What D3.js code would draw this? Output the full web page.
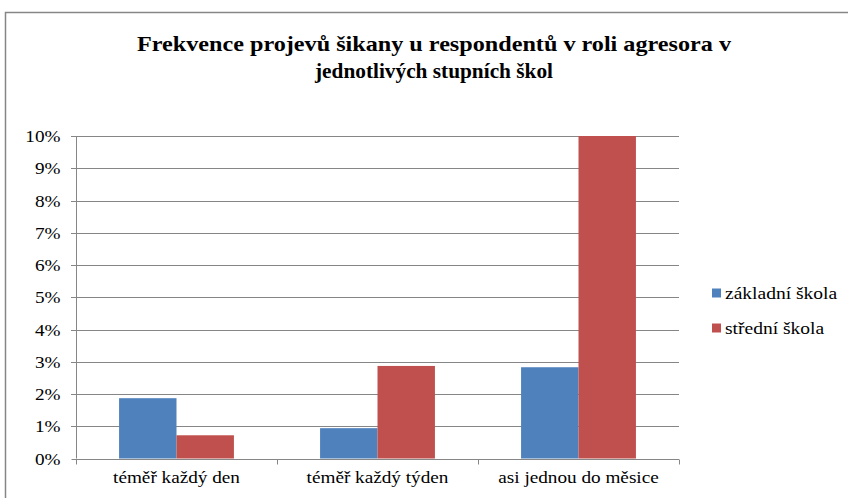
<!DOCTYPE html>
<html lang="cs">
<head>
<meta charset="utf-8">
<title>Frekvence projevů šikany</title>
<script src="https://d3js.org/d3.v7.min.js"></script>
<style>
  body { margin: 0; background: #fff; }
  .grid line { stroke: #868686; stroke-width: 1px; }
  .axis path, .axis line { stroke: #868686; }
</style>
</head>
<body>
<svg width="848" height="498"></svg>
<script>
var categories = ["téměř každý den", "téměř každý týden", "asi jednou do měsice"];
var seriesNames = ["základní škola", "střední škola"];
var zakladni = [1.87, 0.94, 2.83];
var stredni = [0.72, 2.87, 10.0];
var yTicks = [0, 1, 2, 3, 4, 5, 6, 7, 8, 9, 10];
var colors = ["#4F81BD", "#C0504D"];
var titleLines = ["Frekvence projevů šikany u respondentů v roli agresora v", "jednotlivých stupních škol"];
var titleWidths = [594, 238];

var FONT = "'Liberation Serif', 'Times New Roman', serif";
var svg = d3.select("svg");

// the reference text looks horizontally stretched, so widen glyphs a bit
function stretch(sel, k) {
  sel.each(function () {
    var w = this.getComputedTextLength();
    d3.select(this).attr("textLength", w * k).attr("lengthAdjust", "spacingAndGlyphs");
  });
}

// chart frame
svg.append("rect")
  .attr("x", 5.5).attr("y", 12.5)
  .attr("width", 860).attr("height", 500)
  .attr("fill", "#fff")
  .attr("stroke", "#868686")
  .attr("stroke-width", 1.5);

var plotLeft = 76, plotRight = 679, plotTop = 136, plotBottom = 458.5;

var x0 = d3.scaleBand().domain(categories).range([plotLeft, plotRight]);
var y = d3.scaleLinear().domain([0, 10]).range([plotBottom, plotTop]);

// bar width as Excel gap width 150%
var barW = x0.bandwidth() / 3.5;
var x1 = d3.scaleBand().domain(seriesNames)
  .range([x0.bandwidth() / 2 - barW, x0.bandwidth() / 2 + barW]);

// gridlines
svg.append("g").attr("class", "grid")
  .selectAll("line").data(yTicks.slice(1)).enter().append("line")
  .attr("x1", plotLeft - 5).attr("x2", plotRight)
  .attr("y1", d => Math.round(y(d)) + 0.5).attr("y2", d => Math.round(y(d)) + 0.5);

// y axis
var yAxis = d3.axisLeft(y).tickValues(yTicks).tickFormat(d => d + "%").tickSize(5).tickPadding(11);
var gy = svg.append("g").attr("class", "axis")
  .attr("transform", "translate(" + (plotLeft + 0.5) + ",0)")
  .call(yAxis);
gy.selectAll(".tick").attr("transform", d => "translate(0," + (Math.round(y(d)) + 0.5) + ")");
gy.selectAll("text").style("font-family", FONT).style("font-size", "16px");
gy.select(".domain").attr("d", "M0," + plotTop + "V" + plotBottom);

// bars
var data = categories.map((c, i) => ({ cat: c, vals: [zakladni[i], stredni[i]] }));
var groups = svg.append("g").selectAll("g").data(data).enter().append("g")
  .attr("transform", d => "translate(" + x0(d.cat) + ",0)");
groups.selectAll("rect").data(d => d.vals.map((v, j) => ({ s: seriesNames[j], v: v, j: j })))
  .enter().append("rect")
  .attr("x", d => x1(d.s))
  .attr("width", x1.bandwidth())
  .attr("y", d => y(d.v))
  .attr("height", d => y(0) - y(d.v))
  .attr("fill", d => colors[d.j]);

// x axis
var xAxis = d3.axisBottom(x0).tickSize(0).tickPadding(12);
var gx = svg.append("g").attr("class", "axis")
  .attr("transform", "translate(0," + (Math.round(plotBottom) + 0.5) + ")")
  .call(xAxis);
gx.select(".domain").attr("d", "M" + plotLeft + ",0H" + plotRight);
gx.selectAll("text").style("font-family", FONT).style("font-size", "16px");
gx.selectAll(".sep").data(d3.range(categories.length + 1)).enter().append("line")
  .attr("class", "sep")
  .attr("x1", i => Math.round(plotLeft + i * x0.bandwidth()) + 0.5)
  .attr("x2", i => Math.round(plotLeft + i * x0.bandwidth()) + 0.5)
  .attr("y1", 0).attr("y2", 5);

// title
svg.append("g").selectAll("text").data(titleLines).enter().append("text")
  .attr("x", 434).attr("y", (d, i) => 51 + i * 27)
  .attr("text-anchor", "middle")
  .attr("textLength", (d, i) => titleWidths[i])
  .attr("lengthAdjust", "spacingAndGlyphs")
  .style("font-family", FONT)
  .style("font-size", "22px").style("font-weight", "bold")
  .text(d => d);

// legend
var legend = svg.append("g").selectAll("g").data(seriesNames).enter().append("g")
  .attr("transform", (d, i) => "translate(712," + (293 + i * 35) + ")");
legend.append("rect")
  .attr("x", 0).attr("y", -4.5).attr("width", 9).attr("height", 9)
  .attr("fill", (d, i) => colors[i]);
var legendText = legend.append("text")
  .attr("x", 13).attr("y", 5.5)
  .style("font-family", FONT)
  .style("font-size", "16px")
  .text(d => d);

stretch(gy.selectAll("text"), 1.2);
stretch(gx.selectAll("text"), 1.2);
stretch(legendText, 1.22);
</script>
</body>
</html>
